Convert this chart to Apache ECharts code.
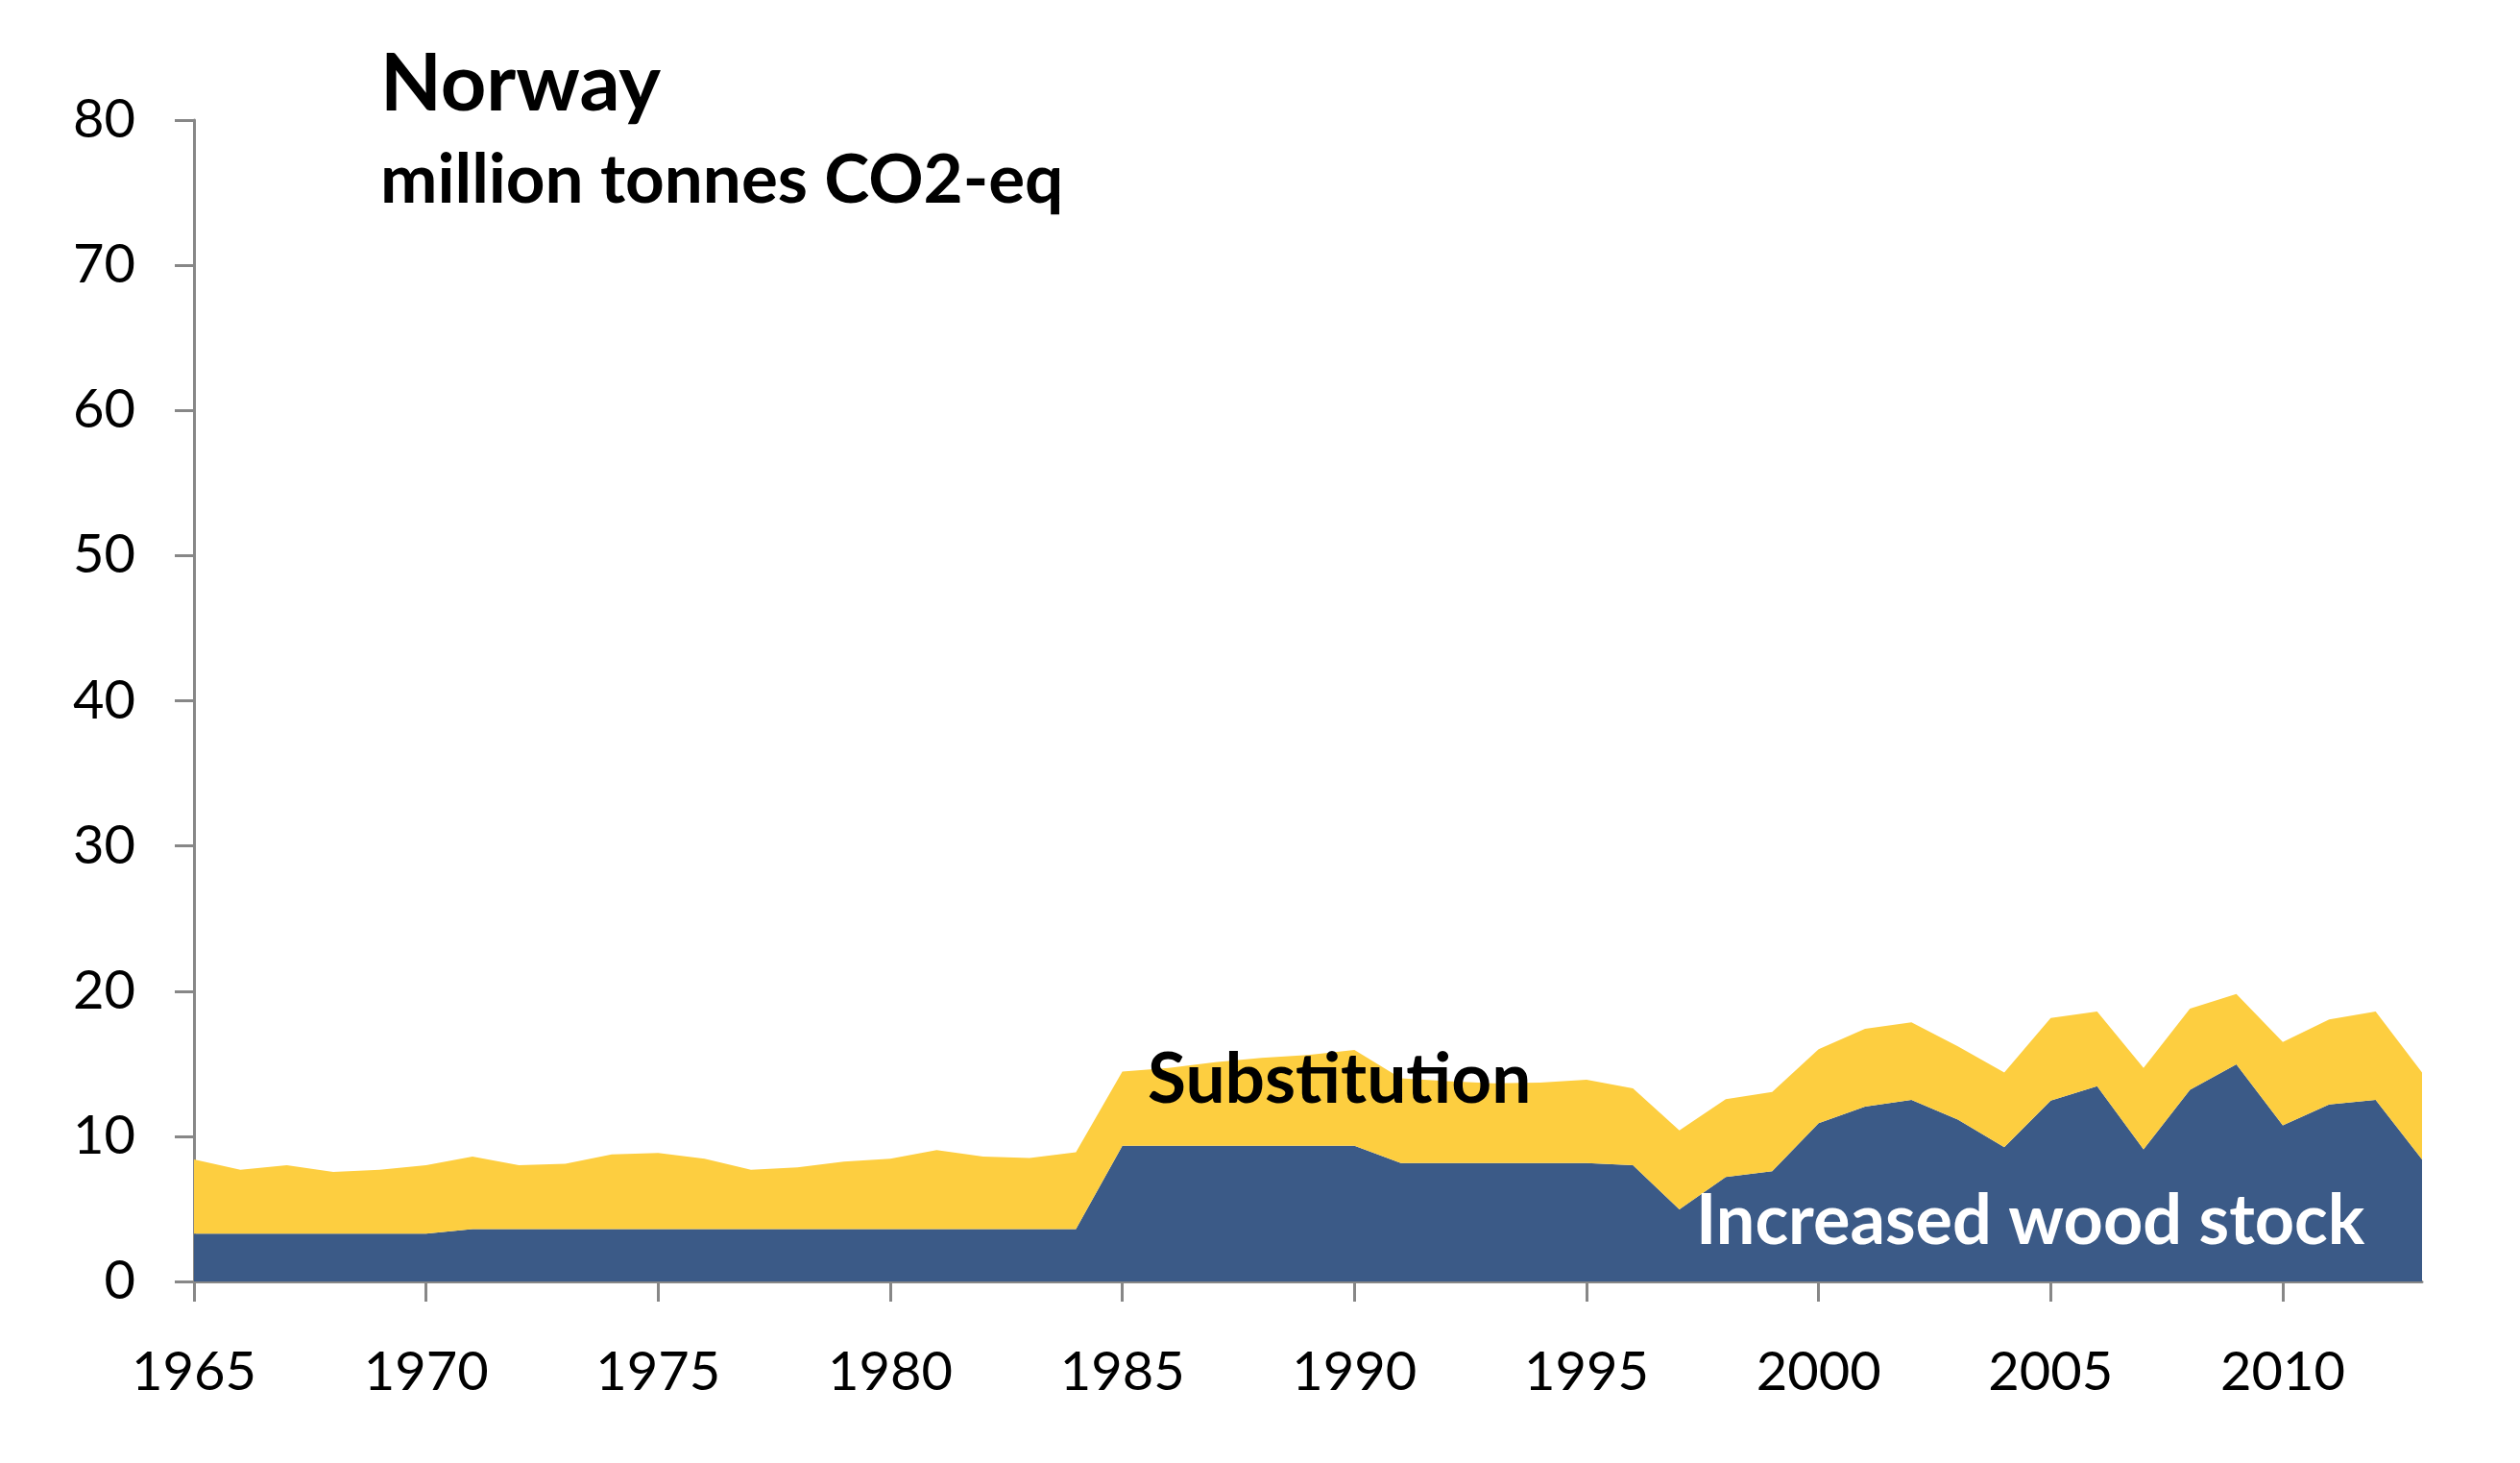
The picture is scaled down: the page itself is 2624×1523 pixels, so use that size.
<!DOCTYPE html>
<html>
<head>
<meta charset="utf-8">
<script src="https://cdn.jsdelivr.net/npm/echarts@6/dist/echarts.min.js"></script>
<style>
html,body{margin:0;padding:0;background:#fff;}
#chart{width:2624px;height:1523px;}
</style>
</head>
<body>
<div id="chart"></div>
<script>
const years = [];
for (let y = 1965; y <= 2013; y++) years.push(String(y));

const woodStock = [
  3.3, 3.3, 3.3, 3.3, 3.3, 3.3,
  3.6, 3.6, 3.6, 3.6, 3.6, 3.6, 3.6, 3.6, 3.6, 3.6, 3.6, 3.6, 3.6, 3.6,
  9.35, 9.35, 9.35, 9.35, 9.35, 9.35,
  8.15, 8.15, 8.15, 8.15, 8.15, 8.0,
  4.96, 7.2, 7.6, 10.9, 12.05, 12.5, 11.15, 9.25, 12.45, 13.45, 9.1, 13.2, 14.95, 10.75, 12.2, 12.5, 8.4
];

const substitution = [
  5.1, 4.4, 4.7, 4.25, 4.4, 4.7, 5.0, 4.4, 4.5, 5.15, 5.25, 4.85, 4.1, 4.25, 4.65, 4.85,
  5.45, 5.0, 4.9, 5.3, 5.1, 5.35, 5.75, 6.05, 6.25, 6.6, 5.85, 5.65, 5.5, 5.55, 5.75, 5.3,
  5.45, 5.35, 5.45, 5.1, 5.35, 5.35, 5.05, 5.15, 5.7, 5.15, 5.6, 5.6, 4.85, 5.75, 5.85, 6.1, 6.0
];

const titleText = 'Norway';
const subtitleText = 'million tonnes CO2-eq';

const FONT = 'Lato, "Open Sans", sans-serif';
const AXIS_COLOR = '#878787';

const chart = echarts.init(document.getElementById('chart'), null, {renderer: 'canvas'});
chart.setOption({
  animation: false,
  backgroundColor: '#ffffff',
  grid: {left: 202, right: 102, top: 125, bottom: 189, containLabel: false},
  xAxis: {
    type: 'category',
    data: years,
    boundaryGap: false,
    axisLine: {show: true, lineStyle: {color: AXIS_COLOR, width: 3}},
    axisTick: {show: true, interval: 4, length: 21, lineStyle: {color: AXIS_COLOR, width: 3}},
    axisLabel: {interval: 4, margin: 67, color: '#000', fontSize: 56, fontFamily: FONT},
    splitLine: {show: false}
  },
  yAxis: {
    type: 'value',
    min: 0, max: 80, interval: 10,
    axisLine: {show: true, lineStyle: {color: AXIS_COLOR, width: 3}},
    axisTick: {show: true, length: 20, lineStyle: {color: AXIS_COLOR, width: 3}},
    axisLabel: {margin: 61, color: '#000', fontSize: 56, fontFamily: FONT},
    splitLine: {show: false}
  },
  series: [
    {
      name: 'Increased wood stock',
      type: 'line',
      stack: 'total',
      data: woodStock,
      showSymbol: false,
      symbol: 'none',
      lineStyle: {width: 0},
      areaStyle: {color: '#3b5a87', opacity: 1},
      z: 2
    },
    {
      name: 'Substitution',
      type: 'line',
      stack: 'total',
      data: substitution,
      showSymbol: false,
      symbol: 'none',
      lineStyle: {width: 0},
      areaStyle: {color: '#fdce40', opacity: 1},
      z: 2
    }
  ],
  graphic: [
    {type: 'text', left: 396, top: 47, z: 10,
     style: {text: titleText, fill: '#000', font: 'bold 83px ' + FONT}},
    {type: 'text', left: 396, top: 153, z: 10,
     style: {text: subtitleText, fill: '#000', font: 'bold 71px ' + FONT}},
    {type: 'text', left: 1195, top: 1088, z: 10,
     style: {text: 'Substitution', fill: '#000', font: 'bold 73px ' + FONT}},
    {type: 'text', left: 1766, top: 1236, z: 10,
     style: {text: 'Increased wood stock', fill: '#fff', font: 'bold 72px ' + FONT}}
  ]
});
</script>
</body>
</html>
